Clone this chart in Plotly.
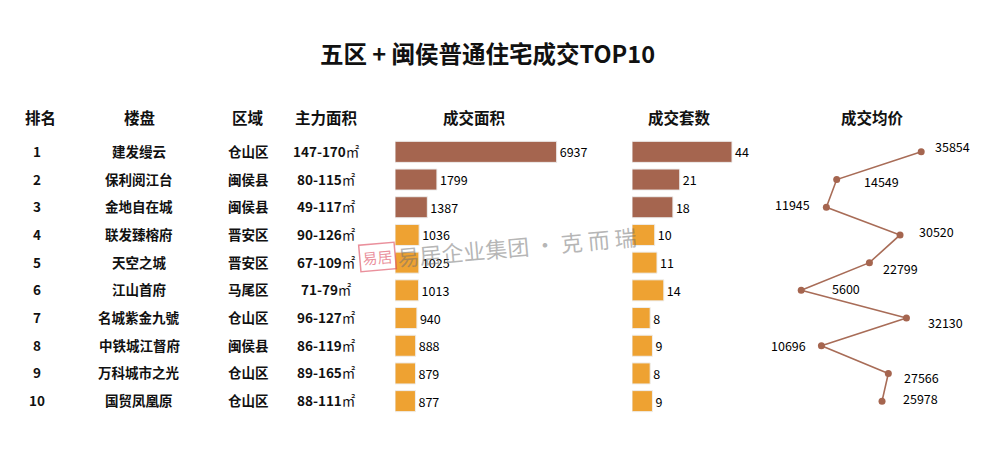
import plotly.graph_objects as go

# table data
ranks = ["1", "2", "3", "4", "5", "6", "7", "8", "9", "10"]
projects = ["建发缦云", "保利阅江台", "金地自在城", "联发臻榕府", "天空之城",
            "江山首府", "名城紫金九號", "中铁城江督府", "万科城市之光", "国贸凤凰原"]
districts = ["仓山区", "闽侯县", "闽侯县", "晋安区", "晋安区",
             "马尾区", "仓山区", "闽侯县", "仓山区", "仓山区"]
sizes = ["147-170", "80-115", "49-117", "90-126", "67-109",
         "71-79", "96-127", "86-119", "89-165", "88-111"]

# series
area = [6937, 1799, 1387, 1036, 1025, 1013, 940, 888, 879, 877]
units = [44, 21, 18, 10, 11, 14, 8, 9, 8, 9]
price = [35854, 14549, 11945, 30520, 22799, 5600, 32130, 10696, 27566, 25978]

headers = ["排名", "楼盘", "区域", "主力面积", "成交面积", "成交套数", "成交均价"]
header_x = [40, 139, 248, 326, 474, 679, 872]
col_x = [37, 139, 248, 326]

BROWN = "#A5654F"
ORANGE = "#EEA232"
W, H = 991, 456
OFF = 8  # page body margin
FONT = "Noto Sans CJK SC"


def px(x):
    return (x - OFF) / W


def py(y):
    return 1 - (y - OFF) / H


rows = list(range(len(ranks)))
bar_colors = [BROWN if i < 3 else ORANGE for i in rows]

fig = go.Figure()

fig.add_trace(go.Bar(
    x=area, y=rows, orientation="h", xaxis="x", yaxis="y",
    marker=dict(color=bar_colors, line=dict(color="#eeeeee", width=1)),
    width=0.76, text=[str(v) for v in area], textposition="outside",
    textfont=dict(size=12.5, color="#000000", family=FONT), cliponaxis=False,
))
fig.add_trace(go.Bar(
    x=units, y=rows, orientation="h", xaxis="x2", yaxis="y",
    marker=dict(color=bar_colors, line=dict(color="#eeeeee", width=1)),
    width=0.76, text=[str(v) for v in units], textposition="outside",
    textfont=dict(size=12.5, color="#000000", family=FONT), cliponaxis=False,
))
fig.add_trace(go.Scatter(
    x=price, y=rows, xaxis="x3", yaxis="y", mode="lines+markers",
    line=dict(color="#A86C57", width=1.6),
    marker=dict(color="#A5654F", size=7), cliponaxis=False,
))

# price labels: offsets in px (dx, dy), anchor side
lbl_off = [(12, 5, "left"), (25, -2, "left"), (-14, 3, "right"), (17, 3, "left"),
           (12, -6, "left"), (29, 2, "left"), (20, -4, "left"), (-13, 0, "right"),
           (14, -4, "left"), (19, 3, "left")]

ann = []
for i, v in enumerate(price):
    dx, dy, side = lbl_off[i]
    ann.append(dict(x=v, y=i, xref="x3", yref="y", text=str(v), showarrow=False,
                    xanchor=side, yanchor="middle", xshift=dx, yshift=dy,
                    font=dict(size=12.5, color="#000000", family=FONT)))

for i in rows:
    cells = ["<b>%s</b>" % ranks[i], "<b>%s</b>" % projects[i],
             "<b>%s</b>" % districts[i], "<b>%s</b>㎡" % sizes[i]]
    for cx, txt in zip(col_x, cells):
        ann.append(dict(x=px(cx), y=i, xref="paper", yref="y", text=txt,
                        showarrow=False, xanchor="center", yanchor="middle", yshift=1,
                        font=dict(size=13.5, color="#111111", family=FONT)))

for hx, h in zip(header_x, headers):
    ann.append(dict(x=px(hx), y=py(117), xref="paper", yref="paper",
                    text="<b>%s</b>" % h, showarrow=False,
                    xanchor="center", yanchor="middle",
                    font=dict(size=15.5, color="#111111", family=FONT)))

ann.append(dict(x=px(487), y=py(53), xref="paper", yref="paper",
                text="<b>五区 + 闽侯普通住宅成交TOP10</b>", showarrow=False,
                xanchor="center", yanchor="middle",
                font=dict(size=23.5, color="#111111", family=FONT)))

# watermark
ann.append(dict(x=px(517), y=py(246), xref="paper", yref="paper",
                text="易居企业集团 · 克 而 瑞", showarrow=False, textangle=-5,
                xanchor="center", yanchor="middle",
                font=dict(size=22, color="rgba(110,110,110,0.5)", family=FONT)))
ann.append(dict(x=px(377), y=py(257), xref="paper", yref="paper",
                text="易居", showarrow=False, textangle=-5,
                xanchor="center", yanchor="middle",
                bordercolor="rgba(220,70,90,0.6)", borderwidth=1.5, borderpad=2,
                font=dict(size=15, color="rgba(220,70,90,0.6)", family=FONT)))

fig.update_layout(
    width=W, height=H, margin=dict(l=0, r=0, t=0, b=0),
    paper_bgcolor="white", plot_bgcolor="white", showlegend=False,
    font=dict(family=FONT),
    xaxis=dict(domain=[px(395), px(600)], range=[0, 205 * 42.9], visible=False,
               anchor="y"),
    xaxis2=dict(domain=[px(632), px(760)], range=[0, 128 * 0.44], visible=False,
                anchor="y"),
    xaxis3=dict(domain=[px(779), px(991)], range=[0, 212 / 0.003966], visible=False,
                anchor="y"),
    yaxis=dict(domain=[py(415), py(138)], range=[9.5, -0.5], visible=False),
    annotations=ann,
    bargap=0.2,
)

fig.write_html("out.html")
